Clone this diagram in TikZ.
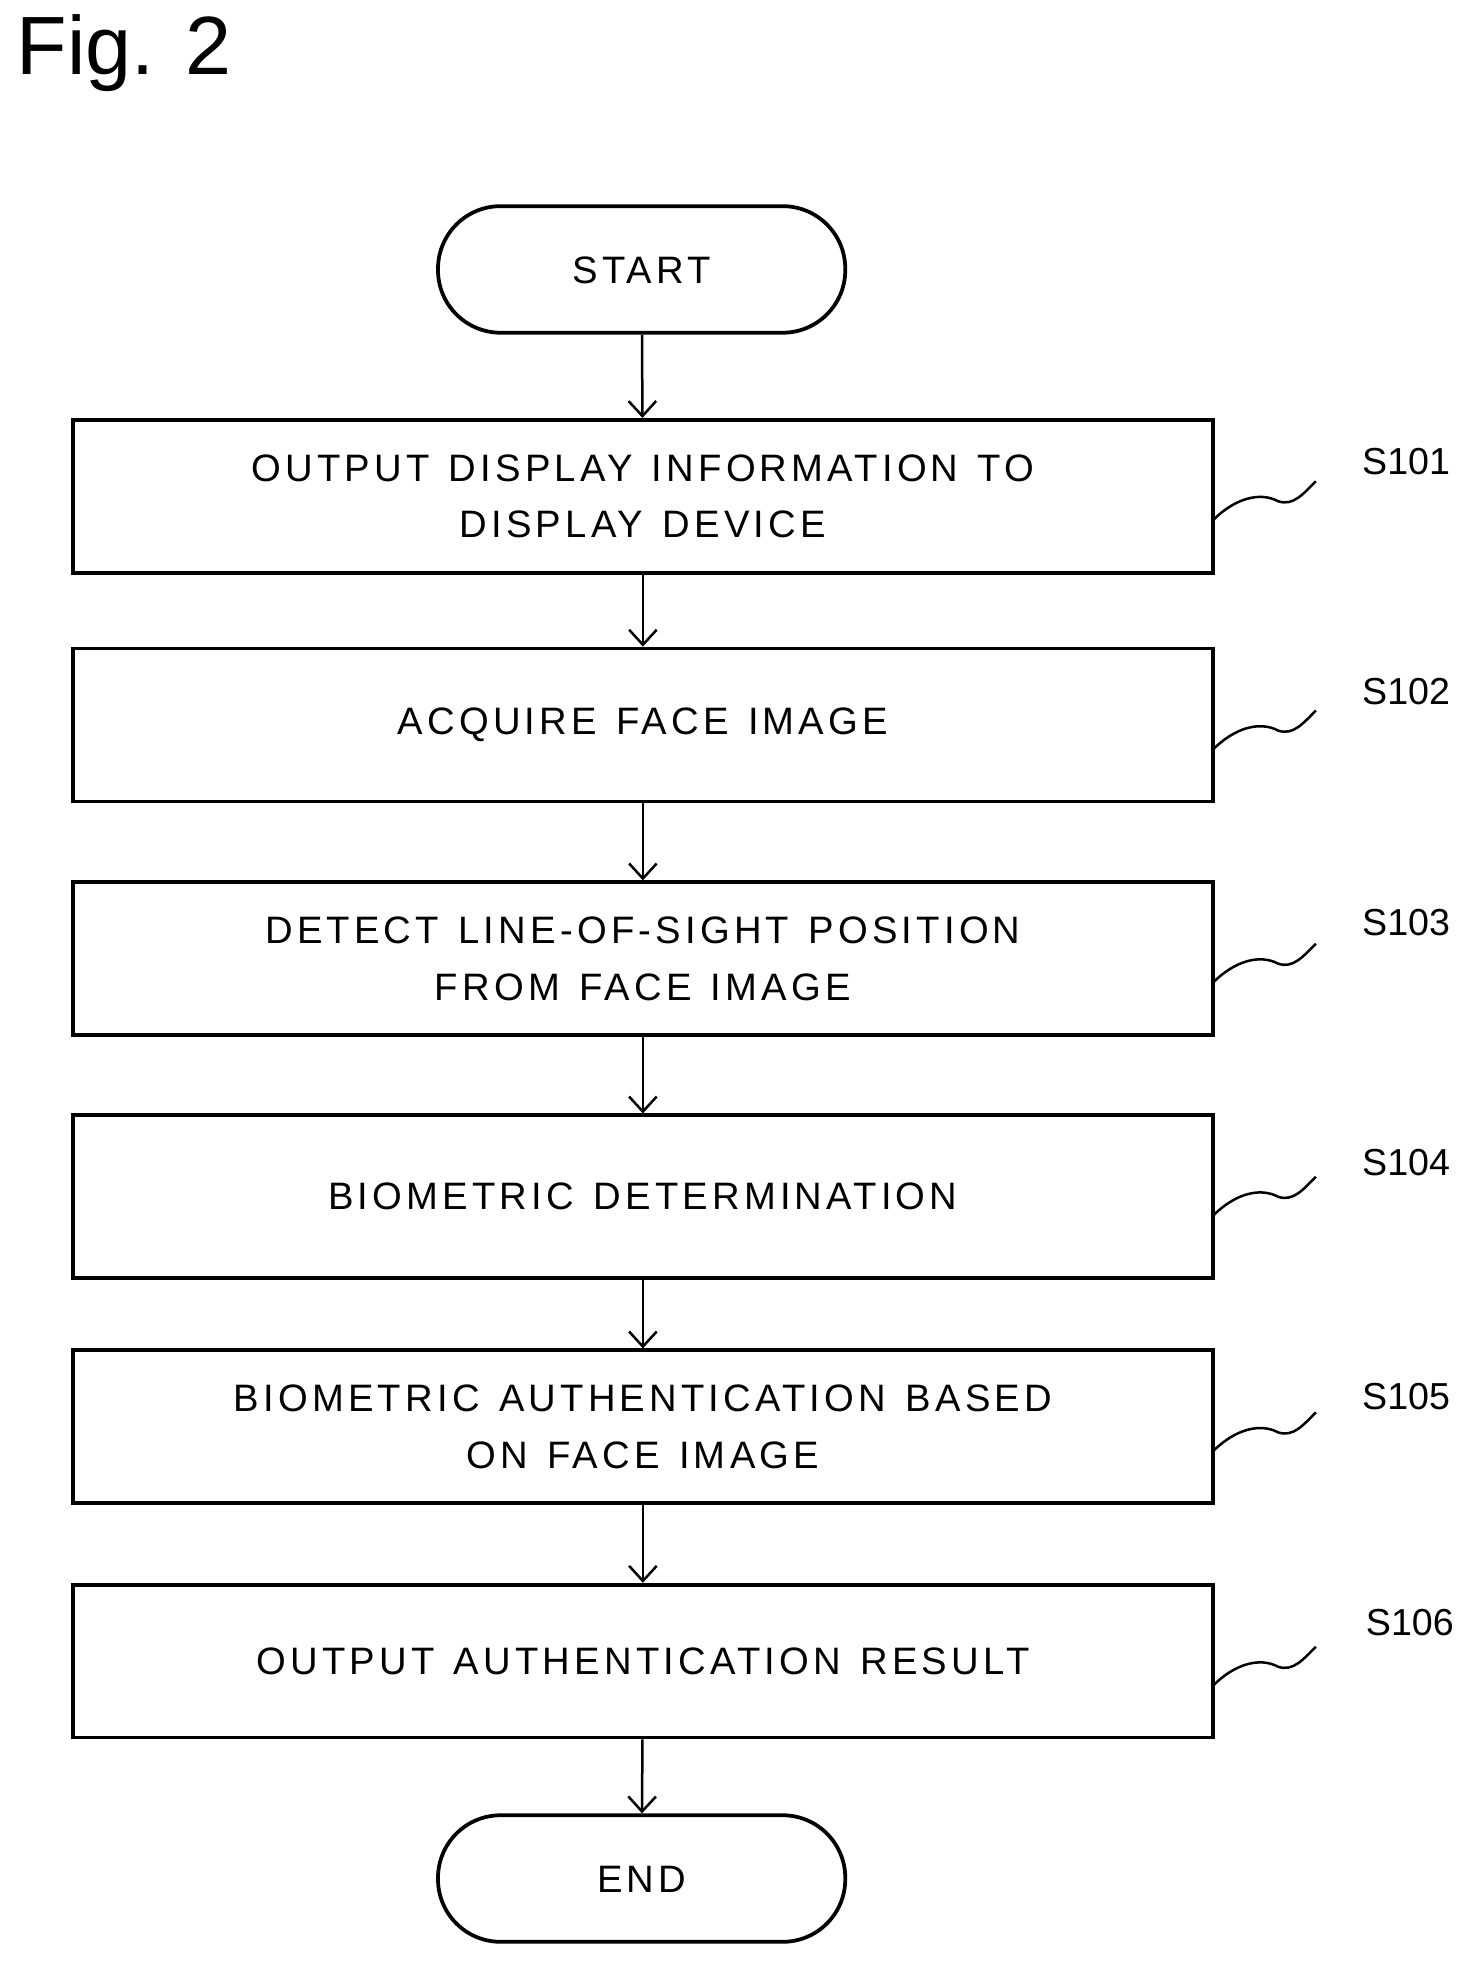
\documentclass[tikz,border=0pt]{standalone}
\usepackage{fontspec}
\setmainfont{Liberation Sans}
\newfontfamily\wide[LetterSpace=11,WordSpace=1.3]{Liberation Sans}
\usetikzlibrary{arrows.meta}
\begin{document}
\begin{tikzpicture}[x=1pt,y=-1pt,
  box/.style={draw,line width=3pt,minimum width=910pt,minimum height=122pt,align=center,font=\wide\fontsize{30.5}{45}\selectfont,inner sep=0pt,yshift=-3pt},
  term/.style={draw,line width=3pt,rounded corners=50pt,minimum width=325pt,minimum height=101pt,font=\wide\fontsize{30.5}{36}\selectfont},
  arr/.style={line width=2pt,-{Straight Barb[length=12pt,width=22pt,line width=2pt]}},
  lab/.style={font=\fontsize{30}{36}\selectfont},
  sq/.style={line width=2pt}]
\useasboundingbox (0,0) rectangle (1180,1568);
\node[anchor=north west,font=\fontsize{66}{80}\selectfont] (fig) at (10,8) {Fig. 2};
\node[term,text depth=0pt,text height=22pt] (start) at (512,215) {START};
\node[box] (s1) at (513,393) {OUTPUT DISPLAY INFORMATION TO\\DISPLAY DEVICE};
\node[box] (s2) at (513,575.5) {ACQUIRE FACE IMAGE};
\node[box] (s3) at (513,762) {DETECT LINE-OF-SIGHT POSITION\\FROM FACE IMAGE};
\node[box,minimum height=130pt] (s4) at (513,952) {BIOMETRIC DETERMINATION};
\node[box] (s5) at (513,1135.5) {BIOMETRIC AUTHENTICATION BASED\\ON FACE IMAGE};
\node[box] (s6) at (513,1322.5) {OUTPUT AUTHENTICATION RESULT};
\node[term,text depth=0pt,text height=22pt] (end) at (512,1499) {END};
\draw[arr] (start) -- (s1);
\draw[arr] (s1) -- (s2);
\draw[arr] (s2) -- (s3);
\draw[arr] (s3) -- (s4);
\draw[arr] (s4) -- (s5);
\draw[arr] (s5) -- (s6);
\draw[arr] (s6) -- (end);
\foreach \n/\t/\ty/\lx/\ly in {s1/S101/332/1122/368, s2/S102/515/1122/552, s3/S103/701/1122/736, s4/S104/887/1122/928, s5/S105/1075/1122/1114, s6/S106/1262/1125/1295}{
  \node[lab] (l\n) at (\lx,\ly) {\t};
  \coordinate (e\n) at (1050,\ty+52);
  \draw[sq] (1,\ty+83) ++(967,0) .. controls (985,\ty+66) and (1005,\ty+60) .. (1020,\ty+68) .. controls (1032,\ty+72) and (1040,\ty+62) .. (e\n);
}
\end{tikzpicture}
\end{document}
